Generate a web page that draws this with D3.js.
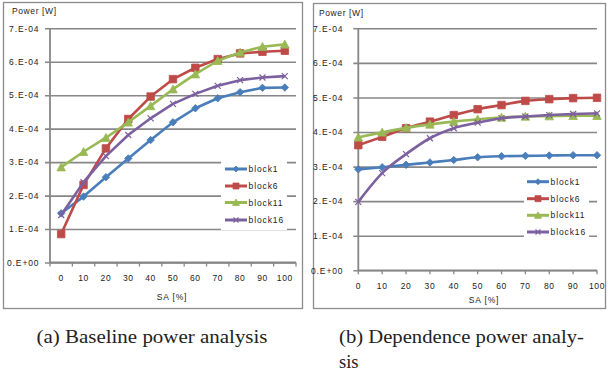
<!DOCTYPE html>
<html><head><meta charset="utf-8">
<script src="https://cdn.jsdelivr.net/npm/d3@7"></script>
<style>
html,body{margin:0;padding:0;background:#fff;}
svg{display:block;}
text{font-family:"Liberation Sans",Arial,sans-serif;fill:#222;}
</style></head><body>
<svg id="c" width="608" height="376"></svg>
<script>
// ---- data ----
const saLevels = [0,10,20,30,40,50,60,70,80,90,100];
const seriesNames = ["block1","block6","block11","block16"];
const yTickValues = [0,1e-4,2e-4,3e-4,4e-4,5e-4,6e-4,7e-4];
const yTickLabels = ["0.E+00","1.E-04","2.E-04","3.E-04","4.E-04","5.E-04","6.E-04","7.E-04"];

// (a) Baseline power analysis
const baseBlock1  = [1.47e-4,1.97e-4,2.55e-4,3.11e-4,3.66e-4,4.19e-4,4.61e-4,4.91e-4,5.09e-4,5.22e-4,5.23e-4];
const baseBlock6  = [0.85e-4,2.32e-4,3.41e-4,4.29e-4,4.96e-4,5.48e-4,5.82e-4,6.08e-4,6.25e-4,6.30e-4,6.33e-4];
const baseBlock11 = [2.85e-4,3.31e-4,3.73e-4,4.19e-4,4.68e-4,5.18e-4,5.63e-4,6.03e-4,6.28e-4,6.45e-4,6.52e-4];
const baseBlock16 = [1.42e-4,2.40e-4,3.18e-4,3.81e-4,4.31e-4,4.74e-4,5.04e-4,5.28e-4,5.45e-4,5.53e-4,5.57e-4];

// (b) Dependence power analysis
const depBlock1  = [2.92e-4,2.98e-4,3.05e-4,3.12e-4,3.19e-4,3.27e-4,3.30e-4,3.31e-4,3.32e-4,3.33e-4,3.33e-4];
const depBlock6  = [3.62e-4,3.86e-4,4.11e-4,4.30e-4,4.49e-4,4.66e-4,4.78e-4,4.90e-4,4.95e-4,4.98e-4,4.99e-4];
const depBlock11 = [3.85e-4,3.99e-4,4.12e-4,4.22e-4,4.30e-4,4.37e-4,4.42e-4,4.45e-4,4.46e-4,4.47e-4,4.47e-4];
const depBlock16 = [1.98e-4,2.81e-4,3.36e-4,3.82e-4,4.11e-4,4.27e-4,4.40e-4,4.45e-4,4.49e-4,4.52e-4,4.54e-4];

const captionA = "(a) Baseline power analysis";
const captionB1 = "(b) Dependence power analy-";
const captionB2 = "sis";
const yTitle = "Power [W]";
const xTitle = "SA [%]";

// ---- styles ----
const colors = ["#4a7ebb","#be4b48","#98b954","#7d60a0"];
const shapes = ["diamond","square","triangle","cross"];
const gridColor = "#878787";

function markerPath(shape, s){
  const h = s/2;
  if(shape==="diamond") return `M0,${-h}L${h},0L0,${h}L${-h},0Z`;
  if(shape==="square") return `M${-h},${-h}H${h}V${h}H${-h}Z`;
  if(shape==="triangle") return `M0,${-h-0.5}L${h+0.5},${h}L${-h-0.5},${h}Z`;
  return `M${-h},${-h}L${h},${h}M${h},${-h}L${-h},${h}`;
}

const svg = d3.select("#c");

function drawChart(cfg){
  const g = svg.append("g");
  // frame
  g.append("rect").attr("x",cfg.frame[0]+0.5).attr("y",cfg.frame[1]+0.5)
    .attr("width",cfg.frame[2]-cfg.frame[0]).attr("height",cfg.frame[3]-cfg.frame[1])
    .attr("fill","#fff").attr("stroke","#8c8c8c").attr("stroke-width",1.3);

  const y = d3.scaleLinear().domain([0,7e-4]).range([cfg.plot[3],cfg.plot[1]]);
  let x, xTickPos;
  if(cfg.band){
    x = d3.scaleBand().domain(saLevels).range([cfg.plot[0],cfg.plot[2]]).padding(0);
    xTickPos = d3.range(saLevels.length+1).map(i=>cfg.plot[0]+i*x.bandwidth());
  } else {
    x = d3.scalePoint().domain(saLevels).range([cfg.plot[0],cfg.plot[2]]);
    xTickPos = saLevels.map(v=>x(v));
  }
  const xc = v => cfg.band ? x(v)+x.bandwidth()/2 : x(v);

  // gridlines
  const yAxis = d3.axisLeft(y).tickValues(yTickValues).tickFormat((d,i)=>yTickLabels[i])
    .tickSize(-(cfg.plot[2]-cfg.plot[0])).tickPadding(0);
  const ya = g.append("g").attr("transform",`translate(${cfg.plot[0]},0)`).call(yAxis);
  ya.select(".domain").remove();
  ya.selectAll(".tick line").attr("stroke",gridColor).attr("stroke-width",1.6).attr("x2",cfg.plot[2]-cfg.plot[0]).attr("x1",-5);
  ya.selectAll(".tick text").attr("x",cfg.ylabX-cfg.plot[0]).attr("text-anchor","end")
    .style("font-size","8.5px").style("letter-spacing","0.9px").attr("fill","#222");

  // y axis line
  g.append("line").attr("x1",cfg.plot[0]).attr("x2",cfg.plot[0]).attr("y1",cfg.plot[1]).attr("y2",cfg.plot[3])
    .attr("stroke",gridColor).attr("stroke-width",1.8);
  // x axis line
  g.append("line").attr("x1",cfg.plot[0]).attr("x2",cfg.plot[2]).attr("y1",cfg.plot[3]).attr("y2",cfg.plot[3])
    .attr("stroke",gridColor).attr("stroke-width",1.8);
  // x ticks
  g.selectAll(null).data(xTickPos).enter().append("line")
    .attr("x1",d=>d).attr("x2",d=>d).attr("y1",cfg.plot[3]).attr("y2",cfg.plot[3]+4)
    .attr("stroke",gridColor).attr("stroke-width",1.3);
  g.selectAll(null).data(saLevels).enter().append("text")
    .attr("x",d=>xc(d)).attr("y",cfg.xlabY).attr("text-anchor","middle")
    .style("font-size","8.5px").style("letter-spacing","0.6px").text(d=>d);

  // titles
  g.append("text").attr("x",cfg.yTitle[0]).attr("y",cfg.yTitle[1]).style("font-size","8.5px")
    .style("letter-spacing","0.6px").text(yTitle);
  g.append("text").attr("x",cfg.xTitle[0]).attr("y",cfg.xTitle[1]).attr("text-anchor","middle")
    .style("font-size","8.5px").style("letter-spacing","0.8px").text(xTitle);

  // legend background
  g.append("rect").attr("x",cfg.legendBox[0]).attr("y",cfg.legendBox[1])
    .attr("width",cfg.legendBox[2]).attr("height",cfg.legendBox[3]).attr("fill","#fff");

  // series
  const line = d3.line().x((d,i)=>xc(saLevels[i])).y(d=>y(d)).curve(cfg.curve);
  cfg.series.forEach((vals,k)=>{
    g.append("path").attr("d",line(vals)).attr("fill","none").attr("stroke",colors[k])
      .attr("stroke-width",2.6).attr("stroke-linejoin","round");
    g.selectAll(null).data(vals).enter().append("path")
      .attr("transform",(d,i)=>`translate(${xc(saLevels[i])},${y(d)})`)
      .attr("d",markerPath(shapes[k], shapes[k]==="cross"?6:7.5))
      .attr("fill",shapes[k]==="cross"?"none":colors[k])
      .attr("stroke",colors[k]).attr("stroke-width",shapes[k]==="cross"?1.2:0.8);
  });

  // legend entries
  seriesNames.forEach((name,k)=>{
    const ly = cfg.legendRows[k];
    g.append("line").attr("x1",cfg.legendLine[0]).attr("x2",cfg.legendLine[1]).attr("y1",ly).attr("y2",ly)
      .attr("stroke",colors[k]).attr("stroke-width",3);
    g.append("path").attr("transform",`translate(${(cfg.legendLine[0]+cfg.legendLine[1])/2},${ly})`)
      .attr("d",markerPath(shapes[k], shapes[k]==="cross"?5:6))
      .attr("fill",shapes[k]==="cross"?"none":colors[k]).attr("stroke",colors[k])
      .attr("stroke-width",shapes[k]==="cross"?1.2:0.8);
    g.append("text").attr("x",cfg.legendLine[1]+1.5).attr("y",ly+3).style("font-size","8.5px")
      .style("letter-spacing","0.9px").text(name);
  });
}

drawChart({
  frame:[3,2,302,308], plot:[50,28.3,296,262.5], band:true, curve:d3.curveLinear,
  ylabX:39.5, xlabY:281, yTitle:[12,14], xTitle:[172,300],
  legendBox:[221,157,66,73], legendLine:[225,247], legendRows:[169,186,202.5,220],
  series:[baseBlock1,baseBlock6,baseBlock11,baseBlock16]
});
drawChart({
  frame:[313,3,605,308], plot:[358.3,28.3,597,270.3], band:false, curve:d3.curveMonotoneX,
  ylabX:343.5, xlabY:289, yTitle:[319,16], xTitle:[484,303],
  legendBox:[524,171,65,70], legendLine:[527,549], legendRows:[181.7,198.7,215.3,232],
  series:[depBlock1,depBlock6,depBlock11,depBlock16]
});

// captions
const cap = svg.append("g").style("font-family","'Liberation Serif','Times New Roman',serif");
cap.append("text").attr("x",36.5).attr("y",343).style("font-family","'Liberation Serif',serif")
  .style("font-size","18.5px").attr("textLength",231).attr("lengthAdjust","spacingAndGlyphs").text(captionA);
cap.append("text").attr("x",339).attr("y",343).style("font-family","'Liberation Serif',serif")
  .style("font-size","18.5px").attr("textLength",245).attr("lengthAdjust","spacingAndGlyphs").text(captionB1);
cap.append("text").attr("x",339).attr("y",368).style("font-family","'Liberation Serif',serif")
  .style("font-size","18.5px").text(captionB2);
</script>
</body></html>
